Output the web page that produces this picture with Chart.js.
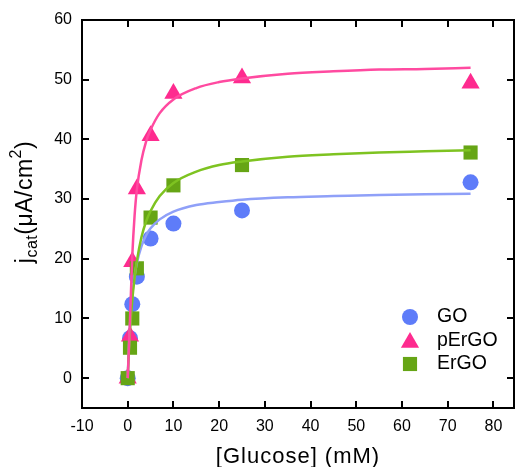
<!DOCTYPE html>
<html>
<head>
<meta charset="utf-8">
<script src="https://cdn.jsdelivr.net/npm/chart.js@4.4.1/dist/chart.umd.min.js"></script>
<style>
  html, body { margin: 0; padding: 0; background: #ffffff; }
  #wrap { width: 515px; height: 467px; position: relative; }
</style>
</head>
<body>
<div id="wrap"><canvas id="chart"></canvas></div>
<script>
// measured points
const glucose = [0, 0.5, 1, 2, 5, 10, 25, 75];
const goValues = [0, 6.7, 12.4, 17.0, 23.4, 25.9, 28.1, 32.8];
const pergoValues = [0, 7.0, 19.5, 31.7, 40.6, 47.7, 50.3, 49.4];
const ergoValues = [0, 5.1, 10.0, 18.4, 26.9, 32.3, 35.7, 37.8];

// fitted curves
const curveX = [0, 0.25, 0.5, 1, 1.5, 2, 3, 4, 5, 7, 10, 15, 20, 25, 35, 45, 55, 65, 75];
const goCurve = [0, 5.2, 8.9, 13.9, 17.1, 19.3, 22.1, 23.9, 25.1, 26.6, 27.9, 29.0, 29.5, 29.9, 30.3, 30.5, 30.7, 30.8, 30.9];
const pergoCurve = [0, 4.8, 9.8, 20.5, 27.2, 31.6, 36.5, 39.6, 41.6, 44.4, 46.7, 48.6, 49.6, 50.2, 51.0, 51.4, 51.7, 51.8, 52.0];
const ergoCurve = [0, 4.4, 7.9, 13.1, 16.8, 19.6, 23.6, 26.2, 28.0, 30.5, 32.7, 34.6, 35.7, 36.3, 37.1, 37.5, 37.8, 38.0, 38.2];

const xTicks = [-10, 0, 10, 20, 30, 40, 50, 60, 70, 80];
const yTicks = [0, 10, 20, 30, 40, 50, 60];

const FONT = "'Liberation Sans', Arial, sans-serif";

function pts(xs, ys) {
    return xs.map((x, i) => ({ x: x, y: ys[i] }));
}

function curve(ys, color) {
    return {
        type: 'line',
        data: pts(curveX, ys),
        borderColor: color,
        borderWidth: 2.5,
        pointRadius: 0,
        fill: false,
        cubicInterpolationMode: 'monotone',
        isCurve: true
    };
}

function markers(label, ys, style, radius, color) {
    return {
        type: 'scatter',
        label: label,
        data: pts(glucose, ys),
        pointStyle: style,
        pointRadius: radius,
        pointHoverRadius: radius,
        backgroundColor: color,
        borderColor: color,
        borderWidth: 0
    };
}

// first dataset ends up on top
const datasets = [
    curve(pergoCurve, '#ff4aa0'),
    curve(ergoCurve, '#7ec321'),
    curve(goCurve, '#8fa0f8'),
    markers('ErGO', ergoValues, 'rect', 10, '#66a515'),
    markers('pErGO', pergoValues, 'triangle', 10.5, '#fe2b8f'),
    markers('GO', goValues, 'circle', 8, '#5e7cf9')
];

const decorPlugin = {
    id: 'decor',
    afterDatasetsDraw(chart) {
        const ctx = chart.ctx;
        const area = chart.chartArea;
        const xs = chart.scales.x;
        const ys = chart.scales.y;
        const tick = 7;
        ctx.save();
        ctx.strokeStyle = '#000';
        ctx.lineWidth = 2;
        ctx.strokeRect(area.left, area.top, area.right - area.left, area.bottom - area.top);

        ctx.beginPath();
        xTicks.forEach(v => {
            const px = Math.round(xs.getPixelForValue(v));
            if (px <= area.left + 1 || px >= area.right - 1) return;
            ctx.moveTo(px, area.bottom);
            ctx.lineTo(px, area.bottom - tick);
            ctx.moveTo(px, area.top);
            ctx.lineTo(px, area.top + tick);
        });
        yTicks.forEach(v => {
            const py = Math.round(ys.getPixelForValue(v));
            if (py <= area.top + 1 || py >= area.bottom - 1) return;
            ctx.moveTo(area.left, py);
            ctx.lineTo(area.left + tick, py);
            ctx.moveTo(area.right, py);
            ctx.lineTo(area.right - tick, py);
        });
        ctx.stroke();

        // legend
        const legendItems = chart.data.datasets.filter(d => !d.isCurve).slice().reverse();
        ctx.font = '19.5px ' + FONT;
        ctx.textBaseline = 'middle';
        ctx.textAlign = 'left';
        legendItems.forEach((d, i) => {
            const y = 317 + i * 23.5;
            ctx.fillStyle = d.backgroundColor;
            Chart.helpers.drawPoint(ctx, { pointStyle: d.pointStyle, radius: d.pointRadius, borderWidth: 0, rotation: 0 }, 410, d.pointStyle === 'triangle' ? y + 2 : y);
            ctx.fillStyle = '#000';
            ctx.fillText(d.label, 437, y);
        });

        // x title
        ctx.font = '22px ' + FONT;
        ctx.letterSpacing = '1px';
        ctx.textAlign = 'center';
        ctx.textBaseline = 'alphabetic';
        ctx.fillText('[Glucose] (mM)', (area.left + area.right) / 2, 463);

        // y title with sub/superscript
        ctx.letterSpacing = '0.5px';
        const parts = [
            { t: 'j', size: 23, dy: 0 },
            { t: 'cat', size: 16, dy: 5 },
            { t: '(\u03bcA/cm', size: 23, dy: 0 },
            { t: '2', size: 16, dy: -11 },
            { t: ')', size: 23, dy: 0 }
        ];
        let total = 0;
        parts.forEach(p => {
            ctx.font = p.size + 'px ' + FONT;
            p.w = ctx.measureText(p.t).width;
            total += p.w;
        });
        ctx.translate(0, 202);
        ctx.rotate(-Math.PI / 2);
        ctx.textAlign = 'left';
        let cx = -total / 2;
        parts.forEach(p => {
            ctx.font = p.size + 'px ' + FONT;
            ctx.fillText(p.t, cx, 32 + p.dy);
            cx += p.w;
        });
        ctx.restore();
    }
};

new Chart(document.getElementById('chart'), {
    type: 'scatter',
    data: { datasets: datasets },
    options: {
        responsive: true,
        maintainAspectRatio: false,
        animation: false,
        layout: { autoPadding: false, padding: { top: 20, right: 1, bottom: 0, left: 0 } },
        plugins: {
            legend: { display: false },
            tooltip: { enabled: false }
        },
        scales: {
            x: {
                type: 'linear',
                min: -10,
                max: 84.5,
                grid: { display: false, drawTicks: false },
                border: { display: false },
                afterBuildTicks: scale => { scale.ticks = xTicks.map(v => ({ value: v })); },
                afterFit: scale => {
                    scale.height = 59;
                    scale.paddingLeft = 0;
                    scale.paddingRight = 0;
                },
                ticks: {
                    padding: 9,
                    color: '#000',
                    font: { family: FONT, size: 16 },
                    maxRotation: 0
                }
            },
            y: {
                type: 'linear',
                min: -5,
                max: 60,
                grid: { display: false, drawTicks: false },
                border: { display: false },
                afterBuildTicks: scale => { scale.ticks = yTicks.map(v => ({ value: v })); },
                afterFit: scale => {
                    scale.width = 82;
                    scale.paddingTop = 0;
                    scale.paddingBottom = 0;
                },
                ticks: {
                    padding: 10,
                    color: '#000',
                    font: { family: FONT, size: 16 }
                }
            }
        }
    },
    plugins: [decorPlugin]
});
</script>
</body>
</html>
